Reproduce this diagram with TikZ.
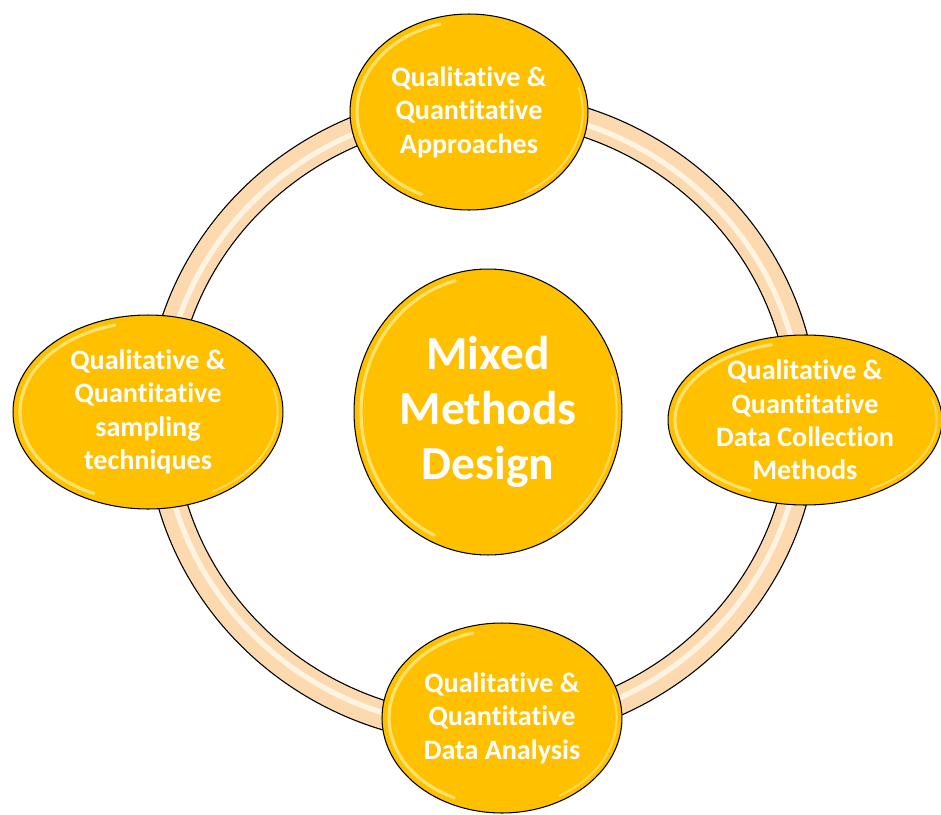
\documentclass[tikz,border=0pt]{standalone}
\usepackage{fontspec}
\setmainfont{Carlito}[Ligatures={NoCommon,NoRequired,NoContextual},Contextuals=NoAlternate]
\usetikzlibrary{shapes.geometric,calc}
\definecolor{gold}{HTML}{FFC000}
\definecolor{peach}{HTML}{FCD9AE}
\definecolor{peachlight}{HTML}{FFF3E2}
\definecolor{shine}{HTML}{FFEB8A}
\begin{document}
\begin{tikzpicture}[x=0.02cm,y=-0.02cm,
	lustre/.style={path picture={
		\draw[shine,line width=1.8pt,line cap=round,opacity=0.8]
			let \p1=(path picture bounding box.north east), \p2=(path picture bounding box.center),
			\n1={\x1-\x2-4pt}, \n2={\y1-\y2-4pt} in
			($(\p2)+(105:\n1 and \n2)$) arc[start angle=105,end angle=245,x radius=\n1,y radius=\n2];
		\draw[shine,line width=1.2pt,line cap=round,opacity=0.6]
			let \p1=(path picture bounding box.north east), \p2=(path picture bounding box.center),
			\n1={\x1-\x2-3pt}, \n2={\y1-\y2-3pt} in
			($(\p2)+(-60:\n1 and \n2)$) arc[start angle=-60,end angle=15,x radius=\n1,y radius=\n2];}},
	topic/.style={ellipse,draw=black,line width=0.6pt,fill=gold,text=white,align=center,inner sep=0pt,lustre,font=\fontsize{16}{19}\selectfont\bfseries},
	hub/.style={topic,font=\fontsize{27}{31.5}\selectfont\bfseries}]
	\useasboundingbox (0,0) rectangle (941,815);
	% ring behind the nodes
	\coordinate (ring) at (482,418);
	\draw[black,line width=17pt] (ring) ellipse [x radius=322, y radius=312];
	\draw[peach,line width=15.6pt] (ring) ellipse [x radius=322, y radius=312];
	\draw[peachlight,line width=3pt] (ring) ellipse [x radius=320, y radius=310];
	% nodes
	\node[hub,minimum width=5.36cm,minimum height=5.72cm] (mmd) at (488,412) {Mixed\\Methods\\Design};
	\node[topic,minimum width=4.76cm,minimum height=3.92cm] (appr) at (469,112) {Qualitative \&\\Quantitative\\Approaches};
	\node[topic,minimum width=5.48cm,minimum height=3.4cm] (coll) at (805,420) {Qualitative \&\\Quantitative\\Data Collection\\Methods};
	\node[topic,minimum width=4.8cm,minimum height=3.8cm] (anal) at (502,718) {Qualitative \&\\Quantitative\\Data Analysis};
	\node[topic,minimum width=5.4cm,minimum height=3.88cm] (samp) at (148,412) {Qualitative \&\\Quantitative\\sampling\\techniques};
\end{tikzpicture}
\end{document}
